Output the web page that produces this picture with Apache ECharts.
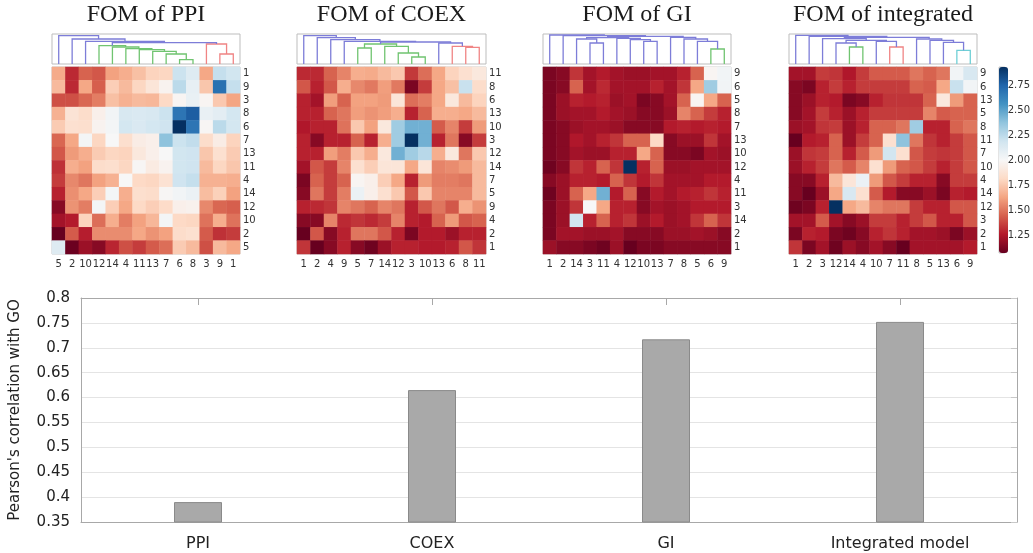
<!DOCTYPE html>
<html>
<head>
<meta charset="utf-8">
<script src="https://cdn.jsdelivr.net/npm/echarts@6/dist/echarts.min.js"></script>
<style>
html,body{margin:0;padding:0;background:#fff;}
#chart{width:1033px;height:553px;}
</style>
</head>
<body>
<div id="chart"></div>
<script>
// ---------------- DATA ----------------
const titles = ['FOM of PPI', 'FOM of COEX', 'FOM of GI', 'FOM of integrated'];

// column order (left -> right); rows are shown in reversed order (top -> bottom)
const ppiCols = ['5','2','10','12','14','4','11','13','7','6','8','3','9','1'];
const coexCols = ['1','2','4','9','5','7','14','12','3','10','13','6','8','11'];
const giCols = ['1','2','14','3','11','4','12','10','13','7','8','5','6','9'];
const intCols = ['1','2','3','12','14','4','10','7','11','8','5','13','6','9'];

// FOM values, rows top -> bottom, columns left -> right
const ppiValues = [
  [1.65,1.30,1.45,1.42,1.62,1.66,1.72,1.79,1.80,2.20,2.12,1.64,2.22,2.18],
  [1.70,1.30,1.64,1.44,1.77,1.70,1.80,1.88,1.97,2.25,2.08,1.74,2.70,2.22],
  [1.40,1.40,1.46,1.52,1.72,1.67,1.70,1.69,1.81,1.98,2.07,1.98,1.75,1.63],
  [1.67,1.87,1.83,1.95,2.03,2.15,2.14,2.15,2.20,2.68,2.77,2.07,2.10,2.17],
  [1.76,1.85,1.84,1.97,2.02,2.17,2.14,2.17,2.19,2.93,2.68,1.99,2.25,2.17],
  [1.46,1.64,2.02,1.80,2.00,1.84,1.93,1.95,2.38,2.20,2.23,1.83,1.93,1.79],
  [1.42,1.60,1.66,1.76,1.80,1.79,1.90,1.95,2.00,2.18,2.19,1.74,1.85,1.76],
  [1.32,1.66,1.62,1.83,1.84,1.80,1.99,1.92,1.97,2.18,2.19,1.70,1.80,1.74],
  [1.35,1.55,1.50,1.62,1.67,2.00,1.81,1.80,1.86,2.19,2.22,1.67,1.67,1.66],
  [1.28,1.57,1.64,1.77,2.02,1.66,1.84,1.83,1.99,2.03,2.06,1.71,1.78,1.62],
  [1.15,1.58,1.52,2.02,1.77,1.64,1.81,1.77,1.82,1.95,1.96,1.55,1.46,1.44],
  [1.22,1.26,1.79,1.48,1.66,1.52,1.62,1.69,2.02,1.81,1.80,1.49,1.66,1.49],
  [1.07,1.43,1.27,1.56,1.56,1.56,1.64,1.58,1.62,1.83,1.85,1.43,1.32,1.35],
  [2.12,1.08,1.20,1.15,1.29,1.40,1.35,1.43,1.48,1.76,1.70,1.40,1.70,1.64]
];
const coexValues = [
  [1.30,1.30,1.45,1.54,1.66,1.65,1.70,1.75,1.34,1.48,1.64,1.79,1.85,1.90],
  [1.42,1.28,1.42,1.66,1.55,1.51,1.61,1.51,1.12,1.35,1.64,1.72,2.21,1.83],
  [1.28,1.22,1.61,1.45,1.62,1.62,1.60,1.88,1.48,1.52,1.64,1.90,1.70,1.79],
  [1.28,1.28,1.45,1.50,1.61,1.58,1.61,1.66,1.28,1.45,1.66,1.66,1.64,1.70],
  [1.25,1.28,1.28,1.49,1.75,1.62,1.90,2.33,2.45,2.45,1.43,1.54,1.35,1.60],
  [1.28,1.15,1.28,1.28,1.45,1.28,1.66,2.33,2.93,2.45,1.28,1.50,1.15,1.35],
  [1.28,1.28,1.61,1.52,1.75,1.66,1.90,2.45,2.33,2.26,1.66,1.90,1.50,1.75],
  [1.22,1.42,1.35,1.54,1.85,1.77,1.88,1.88,1.64,1.88,1.54,1.56,1.60,1.70],
  [1.12,1.45,1.35,1.45,1.98,1.95,1.77,1.64,1.28,1.60,1.52,1.52,1.50,1.70],
  [1.15,1.50,1.35,1.52,2.06,1.95,1.85,1.75,1.42,1.75,1.54,1.54,1.54,1.70],
  [1.28,1.30,1.33,1.54,1.50,1.45,1.54,1.50,1.28,1.42,1.50,1.42,1.66,1.58],
  [1.15,1.15,1.54,1.30,1.33,1.30,1.35,1.54,1.28,1.26,1.45,1.60,1.42,1.45],
  [1.07,1.42,1.15,1.28,1.50,1.50,1.42,1.28,1.12,1.26,1.26,1.20,1.28,1.28],
  [1.33,1.07,1.15,1.28,1.15,1.09,1.20,1.28,1.28,1.26,1.26,1.28,1.42,1.33]
];
const giValues = [
  [1.12,1.15,1.33,1.22,1.26,1.22,1.20,1.20,1.22,1.22,1.28,1.45,1.98,2.03],
  [1.12,1.15,1.45,1.22,1.30,1.22,1.22,1.22,1.28,1.22,1.33,1.64,2.33,2.03],
  [1.12,1.20,1.28,1.26,1.28,1.20,1.22,1.12,1.15,1.22,1.45,1.98,1.64,1.45],
  [1.12,1.20,1.22,1.22,1.26,1.22,1.20,1.15,1.15,1.20,1.54,1.45,1.35,1.28],
  [1.12,1.15,1.20,1.22,1.22,1.20,1.15,1.15,1.15,1.26,1.28,1.26,1.28,1.26],
  [1.12,1.15,1.25,1.22,1.28,1.33,1.45,1.45,1.81,1.15,1.20,1.20,1.33,1.22],
  [1.12,1.15,1.22,1.20,1.20,1.28,1.28,1.64,1.45,1.15,1.15,1.12,1.22,1.20],
  [1.09,1.15,1.33,1.28,1.45,1.33,2.93,1.28,1.45,1.20,1.20,1.22,1.22,1.22],
  [1.15,1.20,1.28,1.28,1.26,1.45,1.33,1.26,1.33,1.22,1.22,1.22,1.26,1.26],
  [1.09,1.20,1.45,1.64,2.45,1.26,1.45,1.15,1.26,1.22,1.26,1.28,1.33,1.28],
  [1.12,1.20,1.33,2.00,1.64,1.28,1.28,1.15,1.22,1.20,1.22,1.26,1.26,1.26],
  [1.12,1.20,2.18,1.28,1.45,1.28,1.33,1.20,1.26,1.20,1.22,1.33,1.45,1.33],
  [1.12,1.22,1.22,1.20,1.20,1.22,1.15,1.15,1.15,1.20,1.20,1.22,1.20,1.15],
  [1.20,1.15,1.15,1.12,1.09,1.20,1.07,1.12,1.12,1.15,1.15,1.15,1.15,1.15]
];
const intValues = [
  [1.22,1.22,1.35,1.33,1.25,1.35,1.43,1.43,1.43,1.50,1.45,1.50,2.03,2.15],
  [1.15,1.12,1.28,1.35,1.28,1.35,1.35,1.35,1.35,1.45,1.43,1.64,2.21,2.03],
  [1.15,1.20,1.28,1.26,1.12,1.15,1.28,1.33,1.33,1.33,1.45,1.90,1.60,1.45],
  [1.15,1.22,1.35,1.28,1.20,1.28,1.35,1.35,1.35,1.35,1.54,1.43,1.45,1.45],
  [1.20,1.22,1.33,1.35,1.20,1.28,1.45,1.45,1.50,2.33,1.28,1.28,1.45,1.50],
  [1.07,1.26,1.28,1.45,1.20,1.35,1.45,1.85,2.38,1.50,1.33,1.28,1.35,1.42],
  [1.20,1.33,1.35,1.45,1.28,1.43,1.60,2.18,1.85,1.42,1.35,1.33,1.35,1.42],
  [1.20,1.28,1.35,1.50,1.43,1.54,1.85,1.60,1.45,1.42,1.35,1.28,1.35,1.42],
  [1.15,1.15,1.28,1.70,1.88,2.06,1.60,1.42,1.35,1.28,1.28,1.15,1.35,1.35],
  [1.15,1.07,1.20,1.64,2.15,1.85,1.43,1.26,1.15,1.15,1.20,1.12,1.28,1.26],
  [1.09,1.12,1.28,2.93,1.64,1.70,1.54,1.50,1.50,1.35,1.28,1.28,1.42,1.42],
  [1.22,1.22,1.43,1.22,1.15,1.20,1.35,1.35,1.28,1.35,1.42,1.28,1.28,1.42],
  [1.12,1.28,1.26,1.12,1.09,1.15,1.28,1.33,1.28,1.22,1.22,1.20,1.12,1.20],
  [1.33,1.12,1.22,1.09,1.20,1.15,1.22,1.15,1.07,1.22,1.22,1.22,1.22,1.26]
];

// dendrogram merges: [childA, childB, height, cluster]; leaves 0..13 (column order), merge k gets id 14+k
const ppiLinks = [
  [12,13,30,'r'],[11,14,60,'r'],[9,10,13,'g'],[8,16,30,'g'],[7,17,38,'g'],[6,18,43,'g'],
  [5,19,46,'g'],[4,20,51,'g'],[3,21,55,'g'],[22,15,64,'b'],[2,23,68,'b'],[1,24,75,'b'],[0,25,85,'b']
];
const coexLinks = [
  [12,13,50,'r'],[11,14,53,'r'],[10,15,63,'b'],[4,5,48,'g'],[8,9,21,'g'],[7,18,33,'g'],
  [6,19,53,'g'],[17,20,60,'g'],[21,16,66,'b'],[3,22,68,'b'],[2,23,73,'b'],[1,24,79,'b'],[0,25,85,'b']
];
const giLinks = [
  [3,4,63,'b'],[2,14,75,'b'],[7,8,68,'b'],[6,16,73,'b'],[5,17,77,'b'],[15,18,79,'b'],
  [12,13,45,'g'],[11,20,68,'b'],[10,21,75,'b'],[9,22,80,'b'],[19,23,83,'b'],[1,24,85,'b'],[0,25,87,'b']
];
const intLinks = [
  [4,5,51,'g'],[3,14,63,'b'],[7,8,51,'r'],[6,16,68,'b'],[15,17,71,'b'],[2,18,76,'b'],
  [12,13,41,'c'],[11,20,65,'b'],[10,21,71,'b'],[9,22,75,'b'],[19,23,80,'b'],[1,24,83,'b'],[0,25,86,'b']
];

const colorbarTicks = [1.25, 1.5, 1.75, 2.0, 2.25, 2.5, 2.75];

const barCategories = ['PPI', 'COEX', 'GI', 'Integrated model'];
const barValues = [0.39, 0.615, 0.717, 0.752];

// ---------------- LAYOUT / STYLE ----------------
const panelCols = [ppiCols, coexCols, giCols, intCols];
const panelValues = [ppiValues, coexValues, giValues, intValues];
const panelLinks = [ppiLinks, coexLinks, giLinks, intLinks];
const panelLeft = [52, 297, 543, 789];
const panelWidth = [188, 189, 188, 188];
const clusterColor = { b: '#7d7dd8', g: '#70c470', r: '#f08484', c: '#6fcfd6' };
const RdBu = ['#67001f','#b2182b','#d6604d','#f4a582','#fddbc7','#f7f7f7','#d1e5f0','#92c5de','#4393c3','#2166ac','#053061'];
const sans = 'DejaVu Sans';

const grid = [], xAxis = [], yAxis = [], series = [], graphic = [];

panelCols.forEach((cols, p) => {
  const rows = cols.slice().reverse();
  // heatmap grid
  const gi = grid.length;
  grid.push({ left: panelLeft[p], top: 67, width: panelWidth[p], height: 187, show: true, borderColor: '#c8c8c8', borderWidth: 1 });
  xAxis.push({ type: 'category', gridIndex: gi, data: cols, position: 'bottom',
    axisLine: { show: false }, axisTick: { show: false }, splitLine: { show: false },
    axisLabel: { interval: 0, margin: 5, fontSize: 10, color: '#333', fontFamily: sans } });
  yAxis.push({ type: 'category', gridIndex: gi, data: rows, inverse: true, position: 'right',
    axisLine: { show: false }, axisTick: { show: false }, splitLine: { show: false },
    axisLabel: { interval: 0, margin: 3, fontSize: 10, color: '#333', fontFamily: sans } });
  const hdata = [];
  panelValues[p].forEach((row, r) => row.forEach((v, c) => hdata.push([c, r, v])));
  series.push({ type: 'heatmap', xAxisIndex: gi, yAxisIndex: gi, data: hdata, silent: true,
    itemStyle: { borderWidth: 0 }, emphasis: { disabled: true } });

  // dendrogram grid
  const di = grid.length;
  grid.push({ left: panelLeft[p], top: 34, width: panelWidth[p], height: 30, show: true, borderColor: '#bdbdbd', borderWidth: 1 });
  xAxis.push({ type: 'value', gridIndex: di, min: 0, max: cols.length, show: false });
  yAxis.push({ type: 'value', gridIndex: di, min: 0, max: 90, show: false });
  const pos = [], hgt = [];
  cols.forEach((_, i) => { pos.push(i + 0.5); hgt.push(0); });
  const ldata = [];
  panelLinks[p].forEach(([a, b, h, cl]) => {
    ldata.push({ coords: [[pos[a], hgt[a]], [pos[a], h], [pos[b], h], [pos[b], hgt[b]]],
      lineStyle: { color: clusterColor[cl] } });
    pos.push((pos[a] + pos[b]) / 2); hgt.push(h);
  });
  series.push({ type: 'lines', coordinateSystem: 'cartesian2d', xAxisIndex: di, yAxisIndex: di,
    polyline: true, silent: true, data: ldata, lineStyle: { width: 1.3, opacity: 1 } });

  graphic.push({ type: 'text', x: panelLeft[p] + panelWidth[p] / 2, y: 15,
    style: { text: titles[p], fill: '#1a1a1a', font: '24px "Liberation Serif"', textAlign: 'center', textVerticalAlign: 'middle' } });
});

// colorbar axis
const ci = grid.length;
grid.push({ left: 999, top: 67, width: 9, height: 186, show: true, borderColor: '#c8c8c8', borderWidth: 1, backgroundColor: 'transparent' });
xAxis.push({ type: 'value', gridIndex: ci, min: 0, max: 1, show: false });
yAxis.push({ type: 'value', gridIndex: ci, min: 1.07, max: 2.93, position: 'right',
  axisLine: { show: false }, splitLine: { show: false },
  axisTick: { show: true, length: 3, lineStyle: { color: '#555' }, customValues: colorbarTicks },
  axisLabel: { fontSize: 10, color: '#333', fontFamily: sans, margin: 3, customValues: colorbarTicks, formatter: v => v.toFixed(2) } });

// bar chart
const bi = grid.length;
grid.push({ left: 80, top: 298, width: 937, height: 224 });
xAxis.push({ type: 'category', gridIndex: bi, data: barCategories, position: 'bottom',
  axisLine: { show: true, lineStyle: { color: '#a8a8a8' } }, axisTick: { show: false },
  axisLabel: { fontSize: 16, color: '#222', fontFamily: sans, margin: 14 } });
xAxis.push({ type: 'category', gridIndex: bi, data: barCategories, position: 'top',
  axisLine: { show: true, lineStyle: { color: '#a8a8a8' } },
  axisTick: { show: true, inside: true, alignWithLabel: true, length: 7, lineStyle: { color: '#a8a8a8' } },
  axisLabel: { show: false } });
yAxis.push({ type: 'value', gridIndex: bi, min: 0.35, max: 0.8, interval: 0.05, position: 'left',
  name: "Pearson's correlation with GO", nameLocation: 'middle', nameGap: 58,
  nameTextStyle: { fontSize: 15, color: '#222', fontFamily: sans },
  axisLine: { show: true, lineStyle: { color: '#a8a8a8' } }, axisTick: { show: false },
  axisLabel: { fontSize: 15, color: '#222', fontFamily: sans, margin: 11 },
  splitLine: { show: true, lineStyle: { color: '#e4e4e4', width: 1 } } });
yAxis.push({ type: 'value', gridIndex: bi, min: 0.35, max: 0.8, interval: 0.05, position: 'right',
  axisLine: { show: true, lineStyle: { color: '#a8a8a8' } },
  axisTick: { show: true, inside: true, length: 6, lineStyle: { color: '#c8c8c8' } },
  axisLabel: { show: false }, splitLine: { show: false } });
series.push({ type: 'bar', xAxisIndex: bi, yAxisIndex: bi, data: barValues, barWidth: 48, silent: true,
  itemStyle: { color: '#a9a9a9', borderColor: '#8a8a8a', borderWidth: 1 } });

const chart = echarts.init(document.getElementById('chart'), null, { renderer: 'canvas' });
chart.setOption({
  animation: false,
  backgroundColor: '#fff',
  grid, xAxis, yAxis, series, graphic,
  visualMap: {
    type: 'continuous', min: 1.07, max: 2.93, seriesIndex: [0, 2, 4, 6],
    inRange: { color: RdBu }, calculable: false, hoverLink: false,
    left: 999, top: 67, itemWidth: 9, itemHeight: 186, padding: 0, orient: 'vertical'
  }
});
</script>
</body>
</html>
